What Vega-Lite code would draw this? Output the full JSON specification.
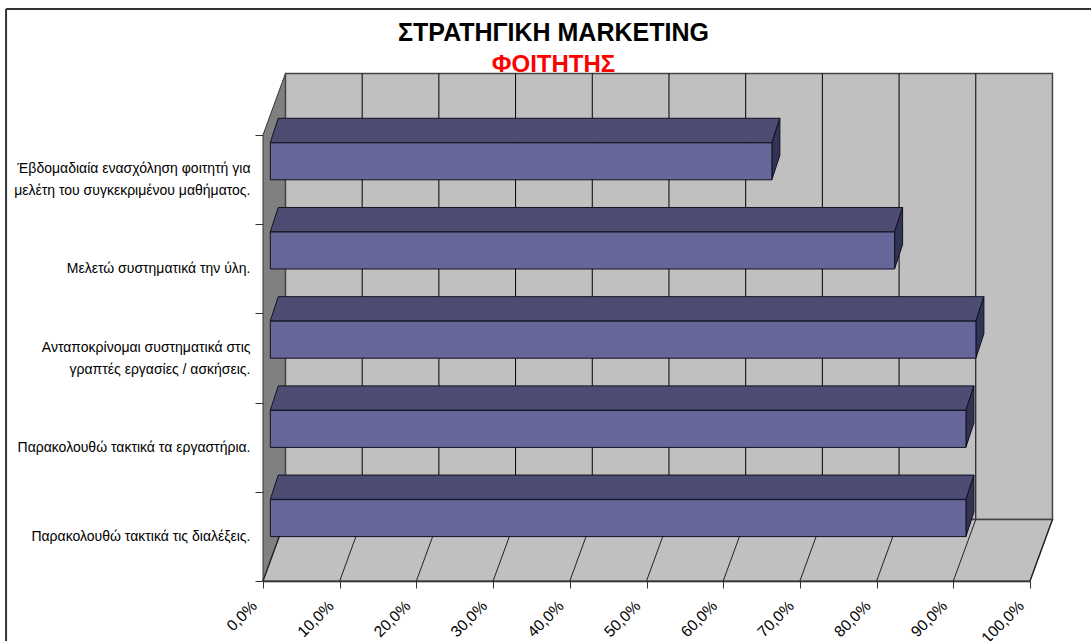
{
"$schema":"https://vega.github.io/schema/vega-lite/v6.json",
"width":767,"height":446,
"autosize":"none",
"padding":{"left":263,"top":135,"right":61,"bottom":60},
"background":"white",
"title":{"text":"ΣΤΡΑΤΗΓΙΚΗ MARKETING","subtitle":"ΦΟΙΤΗΤΗΣ","anchor":"middle","dx":-93,"offset":-69,"font":"Liberation Sans","fontSize":25,"fontWeight":"bold","color":"#000000","subtitleFont":"Liberation Sans","subtitleFontSize":24,"subtitleFontWeight":"bold","subtitleColor":"#FF0000","subtitlePadding":7},
"config":{"view":{"stroke":null}},
"datasets":{
"bars":[
{"label":"Έβδομαδιαία ενασχόληση φοιτητή για\nμελέτη του συγκεκριμένου μαθήματος.","value":0.654,"pos":4},
{"label":"Μελετώ συστηματικά την ύλη.","value":0.814,"pos":3},
{"label":"Ανταποκρίνομαι συστηματικά στις\nγραπτές εργασίες / ασκήσεις.","value":0.92,"pos":2},
{"label":"Παρακολουθώ τακτικά τα εργαστήρια.","value":0.907,"pos":1},
{"label":"Παρακολουθώ τακτικά τις διαλέξεις.","value":0.907,"pos":0}],
"ticks":[{"t":0},{"t":0.1},{"t":0.2},{"t":0.3},{"t":0.4},{"t":0.5},{"t":0.6},{"t":0.7},{"t":0.8},{"t":0.9},{"t":1}],
"leftwall":[{"x":0,"y":0,"y2":1},{"x":0.0293,"y":0.1379,"y2":1.1379}],
"floor":[{"y":0,"x":0,"x2":1},{"y":0.1379,"x":0.0293,"x2":1.0293}],
"one":[{"k":1}]
},
"resolve":{"scale":{"y":"independent"},"axis":{"y":"independent","x":"independent"}},
"layer":[
{"data":{"name":"one"},"mark":{"type":"rule","stroke":"#333333","strokeWidth":2},
 "encoding":{"x":{"datum":-0.335,"type":"quantitative","scale":{"domain":[0,1]},"axis":null},"x2":{"datum":1.08},
 "y":{"datum":1.2825,"type":"quantitative","scale":{"domain":[0,1]},"axis":null}}},
{"data":{"name":"one"},"mark":{"type":"rule","stroke":"#333333","strokeWidth":2},
 "encoding":{"x":{"datum":-0.335,"type":"quantitative","scale":{"domain":[0,1]},"axis":null},
 "y":{"datum":1.2825,"type":"quantitative","scale":{"domain":[0,1]},"axis":null},"y2":{"datum":-0.135}}},
{"data":{"name":"leftwall"},"mark":{"type":"area","fill":"#808080","stroke":"#333333","strokeWidth":1},
 "encoding":{"x":{"field":"x","type":"quantitative","scale":{"domain":[0,1]},"axis":null},
 "y":{"field":"y","type":"quantitative","scale":{"domain":[0,1]},"axis":null},"y2":{"field":"y2"}}},
{"data":{"name":"one"},"mark":{"type":"rect","fill":"#C0C0C0","stroke":"#444444","strokeWidth":1.5},
 "encoding":{"x":{"datum":0.0293,"type":"quantitative","scale":{"domain":[0,1]},"axis":null},"x2":{"datum":1.0293},
 "y":{"datum":0.1379,"type":"quantitative","scale":{"domain":[0,1]},"axis":null},"y2":{"datum":1.1379}}},
{"data":{"name":"ticks"},"transform":[{"filter":"datum.t>0 && datum.t<1"},{"calculate":"datum.t+0.0293","as":"tb"}],
 "mark":{"type":"rule","stroke":"#000000","strokeWidth":1},
 "encoding":{"x":{"field":"tb","type":"quantitative","scale":{"domain":[0,1]},"axis":null},
 "y":{"datum":0.1379,"type":"quantitative","scale":{"domain":[0,1]},"axis":null},"y2":{"datum":1.1379}}},
{"data":{"name":"floor"},"mark":{"type":"area","orient":"horizontal","fill":"#C0C0C0","stroke":"#444444","strokeWidth":1.5},
 "encoding":{"y":{"field":"y","type":"quantitative","scale":{"domain":[0,1]},"axis":null},
 "x":{"field":"x","type":"quantitative","scale":{"domain":[0,1]},"axis":null},"x2":{"field":"x2"}}},
{"data":{"name":"ticks"},"transform":[{"calculate":"datum.t+0.0293","as":"tb"}],
 "mark":{"type":"rule","stroke":"#222222","strokeWidth":1},
 "encoding":{"x":{"field":"t","type":"quantitative","scale":{"domain":[0,1]},
   "axis":{"title":null,"values":[0,0.1,0.2,0.3,0.4,0.5,0.6,0.7,0.8,0.9,1],"grid":false,"domainColor":"#000000","domainWidth":1.5,"tickColor":"#333333","tickSize":7,"labelAngle":-45,"labelAlign":"right","labelBaseline":"middle","labelFont":"Liberation Sans","labelFontSize":15.5,"labelColor":"#000000","labelPadding":15,"labelOffset":-9,"labelOverlap":false,"labelFlush":false,"labelBound":false,"labelExpr":"replace(format(datum.value,'.1%'),'.',',')"}},
 "x2":{"field":"tb"},
 "y":{"datum":0,"type":"quantitative","scale":{"domain":[0,1]},"axis":null},"y2":{"datum":0.1379}}},
{"data":{"name":"bars"},"transform":[{"calculate":"[0,1]","as":"d"},{"flatten":["d"]},{"calculate":"(datum.pos+0.5)/5+0.083+datum.d*0.0545","as":"yy"},{"calculate":"0.0095+datum.d*0.0104","as":"xa"},{"calculate":"datum.xa+datum.value","as":"xb"}],
 "mark":{"type":"area","orient":"horizontal","fill":"#4D4D73","stroke":"#111122","strokeWidth":1},
 "encoding":{"detail":{"field":"label"},"y":{"field":"yy","type":"quantitative","scale":{"domain":[0,1]},"axis":null},
 "x":{"field":"xa","type":"quantitative","scale":{"domain":[0,1]},"axis":null},"x2":{"field":"xb"}}},
{"data":{"name":"bars"},"transform":[{"calculate":"[0,1]","as":"d"},{"flatten":["d"]},{"calculate":"(datum.pos+0.5)/5+datum.d*0.0545","as":"y0"},{"calculate":"datum.y0+0.083","as":"y1"},{"calculate":"0.0095+datum.value+datum.d*0.0104","as":"xb"}],
 "mark":{"type":"area","fill":"#333355","stroke":"#111122","strokeWidth":1},
 "encoding":{"detail":{"field":"label"},"x":{"field":"xb","type":"quantitative","scale":{"domain":[0,1]},"axis":null},
 "y":{"field":"y0","type":"quantitative","scale":{"domain":[0,1]},"axis":null},"y2":{"field":"y1"}}},
{"data":{"name":"bars"},
 "mark":{"type":"bar","size":37,"fill":"#666699","stroke":"#111122","strokeWidth":1,"xOffset":7.3,"x2Offset":7.3,"yOffset":-18.3},
 "encoding":{"x":{"field":"value","type":"quantitative","scale":{"domain":[0,1]},"axis":null},
 "y":{"field":"label","type":"nominal","sort":null,"scale":{"paddingInner":0,"paddingOuter":0},
   "axis":{"title":null,"domain":false,"grid":false,"tickBand":"extent","tickColor":"#333333","tickSize":8,"labelPadding":5,"labelLimit":400,"labelFont":"Liberation Sans","labelFontSize":14,"labelColor":"#000000","labelLineHeight":22,"labelOffset":{"condition":{"test":"indexof(datum.label,'\\n')>=0","value":-11},"value":0},"labelExpr":"split(datum.label,'\\n')"}}}}
]
}
